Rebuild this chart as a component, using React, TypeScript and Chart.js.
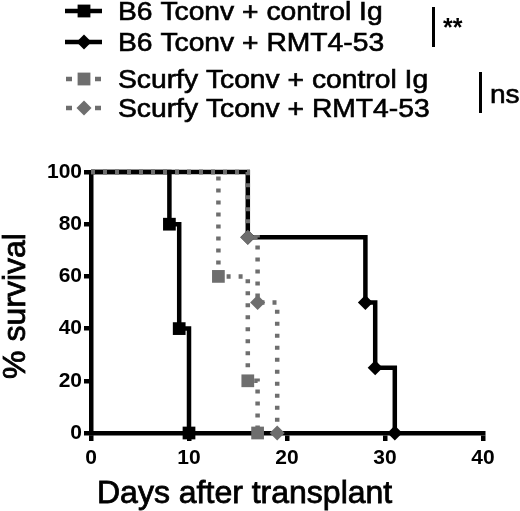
import React, { useEffect, useRef } from 'react';
import { Chart, registerables } from 'chart.js';

Chart.register(...registerables);

// ---- data ----
const seriesNames = [
  'B6 Tconv + control Ig',
  'B6 Tconv + RMT4-53',
  'Scurfy Tconv + control Ig',
  'Scurfy Tconv + RMT4-53',
];
const b6CtrlDays = [0, 8, 9, 10];
const b6CtrlSurvival = [100, 80, 40, 0];
const b6RmtDays = [0, 16, 28, 29, 31];
const b6RmtSurvival = [100, 75, 50, 25, 0];
const scurfyCtrlDays = [0, 13, 16, 17];
const scurfyCtrlSurvival = [100, 60, 20, 0];
const scurfyRmtDays = [0, 16, 17, 19];
const scurfyRmtSurvival = [100, 75, 50, 0];

const xTitle = 'Days after transplant';
const yTitle = '% survival';
const sigLabels = ['**', 'ns'];

const BLACK = '#000000';
const GRAY = '#6e6e6e';
const FONT = '"Liberation Sans", Arial, Helvetica, sans-serif';

const toPoints = (days: number[], surv: number[]) => days.map((d, i) => ({ x: d, y: surv[i] }));

function makeDataset(label: string, days: number[], surv: number[], color: string, style: string, dotted: boolean) {
  const r = style === 'rect' ? 9 : 7.5;
  return {
    label,
    data: toPoints(days, surv),
    stepped: 'before' as const,
    borderColor: color,
    borderWidth: 4.5,
    borderDash: dotted ? [4, 8] : [],
    borderCapStyle: 'butt' as const,
    pointStyle: style,
    pointRadius: days.map((_, i) => (i === 0 ? 0 : r)),
    pointHoverRadius: days.map((_, i) => (i === 0 ? 0 : r)),
    pointBackgroundColor: color,
    pointBorderColor: color,
    pointBorderWidth: 0,
    fill: false,
    clip: false as const,
    tension: 0,
  };
}

function drawMarker(ctx: CanvasRenderingContext2D, style: string, x: number, y: number, color: string) {
  ctx.fillStyle = color;
  ctx.beginPath();
  if (style === 'rect') {
    const s = 6.4;
    ctx.rect(x - s, y - s, 2 * s, 2 * s);
  } else {
    const r = 7.5;
    ctx.moveTo(x - r, y);
    ctx.lineTo(x, y - r);
    ctx.lineTo(x + r, y);
    ctx.lineTo(x, y + r);
    ctx.closePath();
  }
  ctx.fill();
}

function heavyText(ctx: CanvasRenderingContext2D, text: string, x: number, y: number, w: number) {
  ctx.fillText(text, x, y);
  ctx.lineWidth = w;
  ctx.strokeStyle = ctx.fillStyle as string;
  ctx.setLineDash([]);
  ctx.strokeText(text, x, y);
}

const annotationPlugin = {
  id: 'annotations',
  afterDraw(chart: any) {
    const ctx: CanvasRenderingContext2D = chart.ctx;
    ctx.save();
    // legend
    const rows = [11, 42, 79, 108];
    const colors = [BLACK, BLACK, GRAY, GRAY];
    const styles = ['rect', 'rectRot', 'rect', 'rectRot'];
    rows.forEach((cy, i) => {
      ctx.strokeStyle = colors[i];
      ctx.lineWidth = 4.5;
      ctx.setLineDash([]);
      ctx.beginPath();
      if (i < 2) {
        ctx.moveTo(65, cy);
        ctx.lineTo(102, cy);
      } else {
        ctx.moveTo(66, cy);
        ctx.lineTo(72, cy);
        ctx.moveTo(95, cy);
        ctx.lineTo(101, cy);
      }
      ctx.stroke();
      drawMarker(ctx, styles[i], 84, cy, colors[i]);
      ctx.fillStyle = BLACK;
      ctx.font = `25px ${FONT}`;
      ctx.textAlign = 'left';
      ctx.textBaseline = 'alphabetic';
      ctx.save();
      ctx.translate(118, cy + 9);
      ctx.scale(1.13, 1);
      heavyText(ctx, seriesNames[i], 0, 0, 0.6);
      ctx.restore();
    });
    // significance brackets
    ctx.fillStyle = BLACK;
    ctx.fillRect(432, 7, 3, 40);
    ctx.fillRect(479, 72, 3, 41);
    ctx.font = `bold 25px ${FONT}`;
    ctx.fillText(sigLabels[0], 443, 36);
    ctx.font = `26px ${FONT}`;
    ctx.save();
    ctx.translate(490, 103);
    ctx.scale(1.08, 1);
    heavyText(ctx, sigLabels[1], 0, 0, 0.6);
    ctx.restore();
    // axis titles
    ctx.font = `32px ${FONT}`;
    ctx.textAlign = 'left';
    heavyText(ctx, xTitle, 97, 503, 0.8);
    ctx.save();
    ctx.translate(25, 306);
    ctx.rotate(-Math.PI / 2);
    ctx.textAlign = 'center';
    heavyText(ctx, yTitle, 0, 0, 0.8);
    ctx.restore();
    ctx.restore();
  },
};

export default function App() {
  const ref = useRef<HTMLCanvasElement | null>(null);
  useEffect(() => {
    if (!ref.current) return;
    const tickFont = { family: FONT, size: 21, weight: 'bold' as const };
    const chart = new Chart(ref.current, {
      type: 'line',
      data: {
        datasets: [
          makeDataset(seriesNames[3], scurfyRmtDays, scurfyRmtSurvival, GRAY, 'rectRot', true),
          makeDataset(seriesNames[2], scurfyCtrlDays, scurfyCtrlSurvival, GRAY, 'rect', true),
          makeDataset(seriesNames[1], b6RmtDays, b6RmtSurvival, BLACK, 'rectRot', false),
          makeDataset(seriesNames[0], b6CtrlDays, b6CtrlSurvival, BLACK, 'rect', false),
        ] as any,
      },
      options: {
        animation: false,
        responsive: false,
        devicePixelRatio: 1,
        layout: { padding: { top: 172, right: 37, left: 0, bottom: 0 } },
        plugins: { legend: { display: false }, tooltip: { enabled: false } },
        scales: {
          x: {
            type: 'linear',
            min: 0,
            max: 40,
            ticks: { stepSize: 10, font: tickFont, color: BLACK, padding: 5 },
            grid: { display: true, drawOnChartArea: false, drawTicks: true, tickLength: 8, lineWidth: 4.5, color: BLACK },
            border: { display: true, width: 4.5, color: BLACK },
            afterFit: (s: any) => { s.height = 78; },
          },
          y: {
            type: 'linear',
            min: 0,
            max: 100,
            ticks: { stepSize: 20, font: tickFont, color: BLACK, padding: 2 },
            grid: { display: true, drawOnChartArea: false, drawTicks: true, tickLength: 7, lineWidth: 4.5, color: BLACK },
            border: { display: true, width: 4.5, color: BLACK },
            afterFit: (s: any) => { s.width = 91; },
          },
        },
      },
      plugins: [annotationPlugin],
    });
    return () => chart.destroy();
  }, []);
  return (
    <div style={{ position: 'absolute', left: 0, top: 0, width: 520, height: 511, background: '#fff' }}>
      <canvas ref={ref} width={520} height={511} />
    </div>
  );
}
